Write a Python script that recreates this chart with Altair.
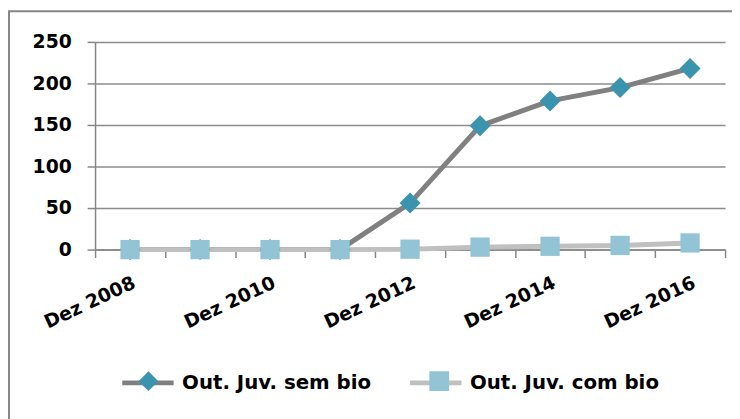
import altair as alt
import pandas as pd

periods = ["Dez 2008", "Dez 2009", "Dez 2010", "Dez 2011", "Dez 2012",
           "Dez 2013", "Dez 2014", "Dez 2015", "Dez 2016"]
series_names = ["Out. Juv. sem bio", "Out. Juv. com bio"]
sem_bio = [0, 0, 0, 0, 56, 149, 179, 195, 218]
com_bio = [0, 0, 0, 0, 0.5, 3, 4, 5, 8]
y_ticks = [0, 50, 100, 150, 200, 250]

line_colors = ["#808080", "#c0c0c0"]
marker_colors = ["#3a94ad", "#93c4d6"]
marker_shapes = ["diamond", "square"]
marker_sizes = [450, 380]

# marker key: same text plus a zero-width space so the marker legend stays separate
marker_keys = [n + "\u200b" for n in series_names]

rows = []
for name, key, vals in zip(series_names, marker_keys, [sem_bio, com_bio]):
    for p, v in zip(periods, vals):
        rows.append({"periodo": p, "serie": name, "marcador": key, "valor": v})
df = pd.DataFrame(rows)

FONT = "DejaVu Sans"
AX = "#868686"

x_enc = alt.X(
    "periodo:N",
    sort=periods,
    scale=alt.Scale(type="band", domain=periods, paddingInner=0, paddingOuter=0),
    axis=alt.Axis(
        title=None, tickBand="extent", grid=False,
        labelExpr="length(datum.label) > 4 && toNumber(slice(datum.label, -4)) % 2 == 0 ? datum.label : ''",
        labelAngle=-25, labelAlign="right", labelBaseline="top", labelPadding=16,
        labelFont=FONT, labelFontWeight="bold", labelFontSize=19, labelColor="#000000",
        domainColor=AX, domainWidth=1.5, tickColor=AX, tickWidth=1.5, tickSize=8,
    ),
)
y_enc = alt.Y(
    "valor:Q",
    scale=alt.Scale(domain=[0, 250]),
    axis=alt.Axis(
        title=None, values=y_ticks, grid=True, gridColor="#8c8c8c", gridWidth=1.5,
        labelPadding=16, labelFont=FONT, labelFontWeight="bold", labelFontSize=19,
        labelColor="#000000", domainColor=AX, domainWidth=1.5, tickColor=AX,
        tickWidth=1.5, tickSize=8,
    ),
)

legend_a = alt.Legend(
    orient="none", legendX=25, legendY=316, direction="horizontal", title=None,
    symbolType="stroke", symbolStrokeWidth=5, symbolSize=2704, labelOffset=6,
    columnPadding=28, labelFont=FONT, labelFontWeight="bold", labelFontSize=20,
    labelColor="#000000", labelLimit=400, padding=0,
)
legend_b = alt.Legend(
    orient="none", legendX=44, legendY=333, direction="horizontal", title=None,
    symbolSize=400, symbolStrokeWidth=0, labelOffset=0, columnPadding=274,
    labelExpr="''", labelFontSize=20, padding=0,
)

color_enc = alt.Color("serie:N", scale=alt.Scale(domain=series_names, range=line_colors), legend=legend_a)
fill_enc = alt.Fill("marcador:N", scale=alt.Scale(domain=marker_keys, range=marker_colors), legend=legend_b)
shape_enc = alt.Shape("marcador:N", scale=alt.Scale(domain=marker_keys, range=marker_shapes), legend=legend_b)

base = alt.Chart(df)
line_layers = []
point_layers = []
for name, size in zip(series_names, marker_sizes):
    flt = alt.datum.serie == name
    line_layers.append(
        base.transform_filter(flt)
        .mark_line(strokeWidth=5, strokeCap="round", strokeJoin="round")
        .encode(x=x_enc, y=y_enc, color=color_enc)
    )
    point_layers.append(
        base.transform_filter(flt)
        .mark_point(filled=True, opacity=1, strokeWidth=0, size=size)
        .encode(x=x_enc, y=y_enc, fill=fill_enc, shape=shape_enc)
    )

frame = alt.Chart(pd.DataFrame({"f": [0]})).mark_rect(
    fill="transparent", stroke="#868686", strokeWidth=2
).encode(x=alt.value(-87), x2=alt.value(700), y=alt.value(-31), y2=alt.value(420))

chart = alt.layer(frame, *line_layers, *point_layers).properties(
    width=637, height=210,
    autosize=alt.AutoSizeParams(type="none"),
    padding={"left": 88, "top": 32, "right": 7, "bottom": 169},
    background="#ffffff",
).configure_view(stroke=None)

chart.save("out.html", embed_options={"renderer": "svg", "actions": False})
